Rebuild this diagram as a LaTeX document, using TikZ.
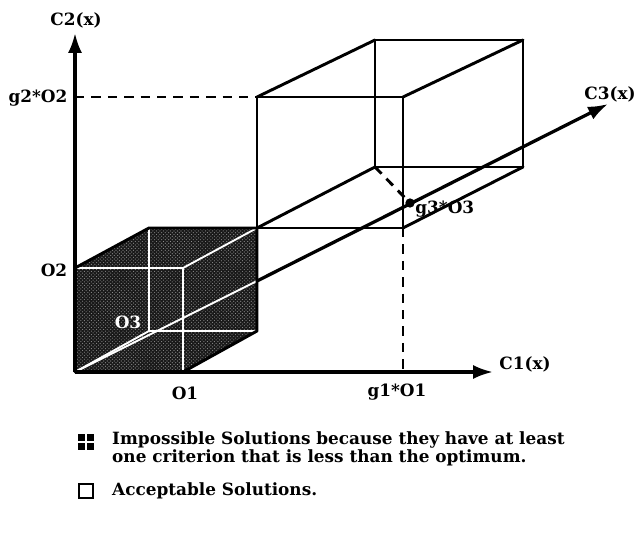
\documentclass[tikz,border=0pt]{standalone}
\usepackage{fontspec}
\setmainfont{DejaVu Serif}
\usetikzlibrary{arrows.meta, patterns}
\definecolor{stipple}{RGB}{25,25,25}

\begin{document}
\begin{tikzpicture}[x=0.03cm, y=-0.03cm,
    axis/.style={line width=2.8pt, -{Latex[length=17pt, width=12pt]}},
    edge/.style={line width=2.5pt, line join=round, line cap=round},
    hidden/.style={white, line width=1.6pt},
    guide/.style={line width=2.5pt, dash pattern=on 8pt off 6pt},
    lbl/.style={font=\fontsize{14.4}{16}\selectfont\bfseries, inner sep=1pt},
    legendtext/.style={font=\fontsize{14.4}{15}\selectfont\bfseries, inner sep=0pt, anchor=west, align=left}]
  \useasboundingbox (0,0) rectangle (643,542);

  % axes
  \coordinate (orig) at (75,372);
  \coordinate (c1tip) at (493,372);
  \coordinate (c2tip) at (75,33);
  \coordinate (c3tip) at (608,104);
  \coordinate (c3exit) at (257,281);

  % small cube: f = front face, b = back face
  \coordinate (fbl) at (75,372);  \coordinate (ftl) at (75,268);
  \coordinate (ftr) at (183,268); \coordinate (fbr) at (183,372);
  \coordinate (bbl) at (149,331); \coordinate (btl) at (149,228);
  \coordinate (btr) at (257,228); \coordinate (bbr) at (257,331);

  \fill[stipple] (fbl) -- (ftl) -- (btl) -- (btr) -- (bbr) -- (fbr) -- cycle;
  \fill[pattern=crosshatch dots, pattern color=white!55!black]
    (fbl) -- (ftl) -- (btl) -- (btr) -- (bbr) -- (fbr) -- cycle;
  \draw[hidden] (ftl) -- (ftr) -- (fbr);
  \draw[hidden] (ftr) -- (btr);
  \draw[hidden] (btl) -- (bbl) -- (bbr);
  \draw[hidden] (fbl) -- (bbl);
  \draw[hidden] (orig) -- (c3exit);
  \draw[edge] (fbl) -- (ftl) -- (btl) -- (btr) -- (bbr) -- (fbr) -- cycle;
  \node[white, lbl] (o3) at (128,322) {O3};

  % large box: g = front face, h = back face
  \coordinate (gtl) at (257,97);  \coordinate (gtr) at (403,97);
  \coordinate (gbr) at (403,228); \coordinate (gbl) at (257,228);
  \coordinate (htl) at (375,40);  \coordinate (htr) at (523,40);
  \coordinate (hbr) at (523,167); \coordinate (hbl) at (375,167);

  \draw[edge] (gtl) -- (gtr) -- (gbr) -- (gbl) -- cycle;
  \draw[edge] (htl) -- (htr) -- (hbr) -- (hbl) -- cycle;
  \draw[edge] (gtl) -- (htl);
  \draw[edge] (gtr) -- (htr);
  \draw[edge] (gbr) -- (hbr);
  \draw[edge] (gbl) -- (hbl);

  \draw[axis] (orig) -- (c1tip);
  \draw[axis] (orig) -- (c2tip);
  \draw[axis] (c3exit) -- (c3tip);

  % optimum guides
  \coordinate (g2foot) at (75,97);
  \coordinate (g1foot) at (403,372);
  \node[circle, fill, inner sep=2.8pt] (g3pt) at (410,203) {};
  \draw[guide] (g2foot) -- (gtl);
  \draw[guide] (gbr) -- (g1foot);
  \draw[guide] (hbl) -- (g3pt);

  % labels
  \node[lbl] (c2lbl) at (76,20) {C2(x)};
  \node[lbl] (c1lbl) at (525,364) {C1(x)};
  \node[lbl] (c3lbl) at (610,94) {C3(x)};
  \node[lbl] (g2lbl) at (38,98) {g2*O2};
  \node[lbl] (o2lbl) at (54,270) {O2};
  \node[lbl] (o1lbl) at (185,393) {O1};
  \node[lbl] (g1lbl) at (397,392) {g1*O1};
  \node[lbl, anchor=west] (g3lbl) at (414,209) {g3*O3};

  % legend
  \node[draw, line width=1.5pt, fill=black, minimum size=12pt, inner sep=0pt] (keybad) at (86,442) {};
  \draw[white, line width=0.9pt] (keybad.north) -- (keybad.south);
  \draw[white, line width=0.9pt] (keybad.west) -- (keybad.east);
  \node[legendtext] (badtext) at (112,449)
    {Impossible Solutions because they have at least\\one criterion that is less than the optimum.};
  \node[draw, line width=1.5pt, minimum size=12pt, inner sep=0pt] (keygood) at (86,491) {};
  \node[legendtext] (goodtext) at (112,491) {Acceptable Solutions.};
\end{tikzpicture}
\end{document}
